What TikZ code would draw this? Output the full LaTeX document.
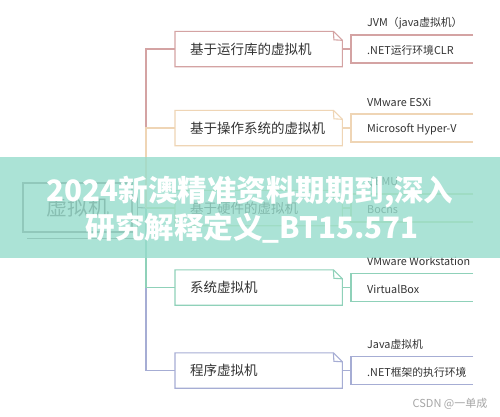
\documentclass[tikz,border=0pt]{standalone}
\usepackage{fontspec}
\setmainfont{Noto Sans CJK SC}
\usetikzlibrary{calc}
\definecolor{c0}{HTML}{7A7A7A}
\definecolor{c1}{HTML}{D4A3A3}
\definecolor{c2}{HTML}{EFD5B5}
\definecolor{c3}{HTML}{C2DCA6}
\definecolor{c4}{HTML}{8FD1B9}
\definecolor{c5}{HTML}{A6ADD4}
\definecolor{txt}{HTML}{333333}
\definecolor{bandc}{RGB}{151,220,204}
\begin{document}
\begin{tikzpicture}[x=1pt,y=-1pt,
  midbox/.style={draw=none, minimum width=167pt, minimum height=35pt, inner xsep=15pt,
    text width=137pt, align=left, anchor=west, font=\fontsize{13.5}{16}\selectfont, text=txt},
  leaf/.style={anchor=west, inner sep=0pt, font=\fontsize{10.8}{13}\selectfont, text=txt},
  edge/.style={line width=1.1pt},
  rootbox/.style={draw=c0, line width=1.1pt, minimum width=109pt, minimum height=49pt,
    font=\fontsize{21}{24}\selectfont, text=black!70},
  bandtext/.style={text=white, font=\fontsize{29.5}{36}\selectfont\bfseries, inner sep=0pt},
]
\useasboundingbox (0,0) rectangle (500,416);
\fill[white] (0,0) rectangle (500,416);

% root
\node[rootbox] (root) at (77.5,207.5) {虚拟机};
\draw[edge,c0] ($(root.south west)+(5,6)$) -- ($(root.south east)+(5,6)$) -- ($(root.north east)+(5,5)$);
\coordinate (J) at (146,208);
\draw[edge,c0] ($(root.east)+(5,0)$) -- (J);

% middle boxes and leaves
\foreach \i/\c/\col/\m/\la/\lb in {
  1/49/c1/基于运行库的虚拟机/JVM（java虚拟机）/.NET运行环境CLR,
  2/128/c2/基于操作系统的虚拟机/VMware ESXi/Microsoft Hyper-V,
  3/208/c3/基于硬件的虚拟机/QEMU/Bochs,
  4/287.5/c4/系统虚拟机/VMware Workstation/VirtualBox,
  5/370.5/c5/程序虚拟机/Java虚拟机/.NET框架的执行环境}{
  \node[midbox] (b\i) at (175,\c) {\m};
  \draw[edge,\col] (b\i.north west) -- ($(b\i.north east)+(-9,0)$) -- ($(b\i.north east)+(0,9)$)
     -- (b\i.south east) -- (b\i.south west) -- cycle;
  \draw[edge,\col] ($(b\i.north east)+(-9,0)$) -- ($(b\i.north east)+(-8.5,8.5)$) -- ($(b\i.north east)+(0,9)$);
  \coordinate (k\i) at (351,\c);
  \coordinate (kt\i) at (351,\c-14);
  \coordinate (kb\i) at (351,\c+14);
  \coordinate (et\i) at (473,\c-14);
  \coordinate (eb\i) at (473,\c+14);
  \draw[edge,\col] (b\i.east) -- (k\i);
  \draw[edge,\col] (et\i) -- (kt\i) -- (kb\i) -- (eb\i);
  \node[leaf] (la\i) at (367,\c-26) {\la};
  \node[leaf] (lb\i) at (367,\c+1.5) {\lb};
}

% branches from the root junction
\draw[edge,c1] (J) |- (b1.west);
\draw[edge,c5] (J) |- (b5.west);
\draw[edge,c2] (J) |- (b2.west);
\draw[edge,c4] (J) |- (b4.west);
\draw[edge,c3] (J) -- (b3.west);

% overlay band
\fill[bandc, fill opacity=0.8] (0,157) rectangle (500,258);
\node[bandtext] (t1) at (250,192) {2024新澳精准资料期期到,深入};
\node[bandtext] (t2) at (252,228) {研究解释定义\_BT15.571};

% watermark
\node[text=black!35, font=\fontsize{11}{13}\selectfont, inner sep=0pt] (wm) at (450,404) {CSDN @一单成};
\end{tikzpicture}
\end{document}
